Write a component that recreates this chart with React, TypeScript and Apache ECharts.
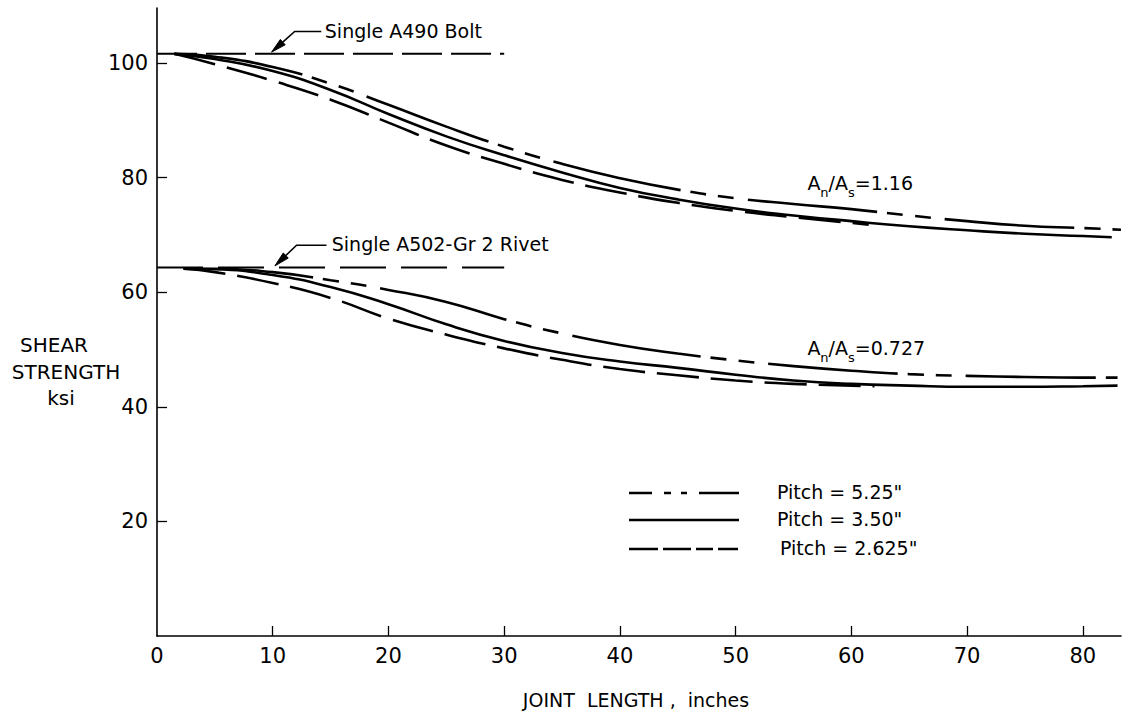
import React, { useEffect, useRef } from "react";
import * as echarts from "echarts";

const FONT = "DejaVu Sans";

// axis ticks / labels
const xTickValues = [0, 10, 20, 30, 40, 50, 60, 70, 80];
const yTickValues = [20, 40, 60, 80, 100];
const xMax = 83.3;
const yMax = 109.6;

// single-fastener reference strengths (ksi), drawn from joint length 0 to 30 in
const boltStrength = 101.6;
const rivetStrength = 64.3;
const singleSpan = [0, 30];

// An/As = 1.16 (A490 bolts): [joint length (in), shear strength (ksi)]
const bolt525: number[][] = [
  [1.5, 101.6], [5, 101.1], [10, 99.3], [15, 96.4], [20, 92.7], [25, 88.9], [30, 85.4],
  [35, 82.4], [40, 79.9], [45, 77.9], [50, 76.4], [55, 75.4], [60, 74.5], [65, 73.4],
  [70, 72.4], [75, 71.6], [80, 71.2], [83.3, 70.9],
];
const bolt350: number[][] = [
  [1.5, 101.6], [5, 100.7], [10, 98.6], [15, 95.3], [20, 91.1], [25, 87.2], [30, 83.9],
  [35, 80.9], [40, 78.2], [45, 76.2], [50, 74.6], [55, 73.4], [60, 72.4], [65, 71.5],
  [70, 70.8], [75, 70.2], [80, 69.8], [82.5, 69.6],
];
const bolt2625: number[][] = [
  [1.5, 101.6], [5, 99.8], [10, 96.9], [15, 93.6], [20, 89.6], [25, 85.6], [30, 82.4],
  [35, 79.6], [40, 77.4], [45, 75.6], [50, 74.2], [55, 73.1], [61.5, 71.8],
];

// An/As = 0.727 (A502-Gr 2 rivets)
const rivet525: number[][] = [
  [2.3, 64.1], [5, 64.1], [10, 63.5], [15, 62.1], [20, 60.4], [25, 58.3], [30, 55.3],
  [35, 52.8], [40, 50.8], [45, 49.3], [50, 48.1], [55, 47.1], [60, 46.3], [65, 45.7],
  [70, 45.4], [75, 45.2], [80, 45.1], [83.0, 45.1],
];
const rivet350: number[][] = [
  [2.3, 64.1], [5, 64], [10, 63], [15, 60.9], [20, 57.9], [25, 54.4], [30, 51.5],
  [35, 49.4], [40, 47.9], [45, 46.8], [50, 45.6], [55, 44.6], [60, 44.0], [65, 43.7],
  [70, 43.5], [75, 43.5], [80, 43.6], [83.0, 43.7],
];
const rivet2625: number[][] = [
  [2.3, 64.1], [5, 63.5], [10, 61.6], [15, 59], [20, 55.4], [25, 52.6], [30, 50.2],
  [35, 48.2], [40, 46.6], [45, 45.5], [50, 44.6], [55, 44], [62, 43.6],
];

// annotation leaders (data coordinates: text end -> elbow -> arrow tip) and labels
const boltLeader = [[14.2, 105.5], [11.9, 105.5], [9.9, 101.9]];
const rivetLeader = [[14.65, 68.2], [12.06, 68.2], [10.19, 64.6]];
const boltLabelAt = [14.5, 105.5];
const rivetLabelAt = [15.1, 68.5];
const ratioBoltAt = [56.2, 78.5];
const ratioRivetAt = [56.2, 49.7];

const dash525 = [130, 10, 16, 12, 16, 14];
const dash2625 = [42, 12];

const legendItems = [
  { label: 'Pitch = 5.25"', dash: [23, 12, 7, 10, 6, 12, 40] as number[] | null },
  { label: 'Pitch = 3.50"', dash: null as number[] | null },
  { label: 'Pitch = 2.625"', dash: [29, 5, 28, 5, 17, 5, 20] as number[] | null },
];

export default function App() {
  const ref = useRef<HTMLDivElement>(null);

  useEffect(() => {
    document.body.style.margin = "0";
    const chart = echarts.init(ref.current as HTMLDivElement, null, { renderer: "svg" });

    const curve = (name: string, data: number[][], dash: any) => ({
      type: "line",
      name,
      data,
      symbol: "none",
      smooth: 0.5,
      silent: true,
      clip: false,
      z: 3,
      lineStyle: { color: "#000", width: 2.6, type: dash, cap: "butt" },
    });

    const refLine = (name: string, y: number, dash: number[]) => ({
      type: "line",
      name,
      data: [[singleSpan[0], y], [singleSpan[1], y]],
      symbol: "none",
      silent: true,
      z: 2,
      lineStyle: { color: "#000", width: 2, type: dash },
    });

    chart.setOption({
      animation: false,
      backgroundColor: "#fff",
      grid: { left: 157, right: 20, top: 8, bottom: 78 },
      xAxis: {
        type: "value",
        min: 0,
        max: xMax,
        interval: 10,
        splitLine: { show: false },
        axisLine: { onZero: false, lineStyle: { color: "#000", width: 1.6 } },
        axisTick: {
          inside: true,
          length: 10,
          customValues: xTickValues.filter((v) => v > 0),
          lineStyle: { color: "#000", width: 1.3 },
        },
        axisLabel: {
          customValues: xTickValues,
          formatter: (v: number) => (xTickValues.includes(v) ? String(v) : ""),
          color: "#000",
          fontFamily: FONT,
          fontSize: 21,
          margin: 9,
        },
      },
      yAxis: {
        type: "value",
        min: 0,
        max: yMax,
        interval: 20,
        splitLine: { show: false },
        axisLine: { onZero: false, lineStyle: { color: "#000", width: 1.6 } },
        axisTick: {
          inside: true,
          length: 10,
          customValues: yTickValues,
          lineStyle: { color: "#000", width: 1.3 },
        },
        axisLabel: {
          customValues: yTickValues,
          formatter: (v: number) => (yTickValues.includes(v) ? String(v) : ""),
          color: "#000",
          fontFamily: FONT,
          fontSize: 21,
          margin: 9,
        },
      },
      series: [
        refLine("Single A490 Bolt", boltStrength, [40, 9]),
        refLine("Single A502-Gr 2 Rivet", rivetStrength, [46, 15]),
        curve("Bolt pitch 5.25", bolt525, dash525),
        curve("Bolt pitch 3.50", bolt350, "solid"),
        curve("Bolt pitch 2.625", bolt2625, dash2625),
        curve("Rivet pitch 5.25", rivet525, dash525),
        curve("Rivet pitch 3.50", rivet350, "solid"),
        curve("Rivet pitch 2.625", rivet2625, dash2625),
      ],
    });

    const px = (p: number[]) => chart.convertToPixel({ gridIndex: 0 }, p) as number[];
    const txt = (text: string, p: number[], size: number, align = "left") => ({
      type: "text",
      x: p[0],
      y: p[1],
      silent: true,
      style: {
        text,
        fill: "#000",
        fontFamily: FONT,
        fontSize: size,
        align,
        verticalAlign: "middle",
      },
    });
    const ratio = (value: string, p: number[]) => ({
      type: "text",
      x: p[0],
      y: p[1],
      silent: true,
      style: {
        text: `{a|A}{s|n}{a|/A}{s|s}{a|=${value}}`,
        fill: "#000",
        fontFamily: FONT,
        verticalAlign: "middle",
        rich: {
          a: { fontSize: 19, fontFamily: FONT, fill: "#000", verticalAlign: "bottom", padding: [0, 0, 6, 0] },
          s: { fontSize: 13, fontFamily: FONT, fill: "#000", verticalAlign: "bottom" },
        },
      },
    });
    const leaderEls = (coords: number[][]) => {
      const pts = coords.map(px);
      const tip = pts[pts.length - 1];
      const from = pts[pts.length - 2];
      const dx = tip[0] - from[0];
      const dy = tip[1] - from[1];
      const len = Math.sqrt(dx * dx + dy * dy) || 1;
      const ux = dx / len;
      const uy = dy / len;
      const L = 15;
      const W = 3.6;
      const bx = tip[0] - ux * L;
      const by = tip[1] - uy * L;
      return [
        {
          type: "polyline",
          silent: true,
          shape: { points: [...pts.slice(0, -1), [bx, by]] },
          style: { stroke: "#000", lineWidth: 1.6, fill: "none" },
        },
        {
          type: "polygon",
          silent: true,
          shape: {
            points: [tip, [bx - uy * W, by + ux * W], [bx + uy * W, by - ux * W]],
          },
          style: { fill: "#000", stroke: "#000", lineWidth: 1 },
        },
      ];
    };

    const legendEls: any[] = [];
    const legendYs = [493, 520, 549];
    legendItems.forEach((it, i) => {
      legendEls.push({
        type: "line",
        silent: true,
        shape: { x1: 629, y1: legendYs[i], x2: 739, y2: legendYs[i] },
        style: { stroke: "#000", lineWidth: 2.6, lineDash: it.dash || undefined },
      });
      legendEls.push(txt(it.label, [777 + (i === 2 ? 3 : 0), legendYs[i] - 1], 19));
    });

    chart.setOption({
      graphic: [
        ...leaderEls(boltLeader),
        ...leaderEls(rivetLeader),
        txt("Single A490 Bolt", px(boltLabelAt), 19),
        txt("Single A502-Gr 2 Rivet", px(rivetLabelAt), 19),
        ratio("1.16", px(ratioBoltAt)),
        ratio("0.727", px(ratioRivetAt)),
        txt("SHEAR", [54, 345], 20, "center"),
        txt("STRENGTH", [66, 372], 20, "center"),
        txt("ksi", [61, 398], 20, "center"),
        txt("JOINT  LENGTH ,  inches", [636, 700], 19, "center"),
        ...legendEls,
      ],
    });

    return () => chart.dispose();
  }, []);

  return <div ref={ref} style={{ width: 1141, height: 714 }} />;
}
